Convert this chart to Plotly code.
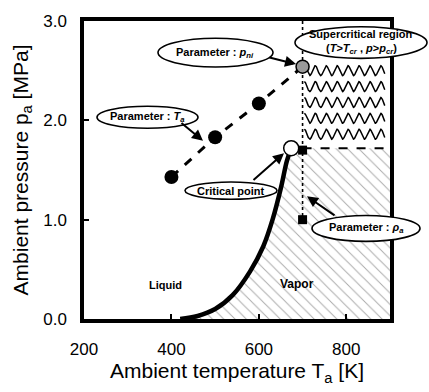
import numpy as np
import plotly.graph_objects as go

# ---- data ----
crit_T = [420, 460, 500, 540, 580, 610, 632, 651, 664, 674]
crit_p = [0.0, 0.03, 0.10, 0.24, 0.48, 0.73, 1.01, 1.33, 1.59, 1.72]

ta_T = [400, 500, 600]
ta_p = [1.43, 1.83, 2.17]
pni_T = [700]
pni_p = [2.54]

rho_T = [700, 700]
rho_p = [1.70, 1.00]

cp_T = [674]
cp_p = [1.72]

T_cr_line = 700
p_cr = 1.72
wave_rows = [2.50, 2.34, 2.18, 2.02, 1.86]

x_ticks = [200, 400, 600, 800]
y_ticks = [0, 1, 2, 3]
y_ticktext = ["0.0", "1.0", "2.0", "3.0"]

# ---- layout geometry ----
W, H = 429, 392
L, R, T, B = 84, 39, 14, 67
PW, PH = W - L - R, H - T - B


def P(px, py):
    return (px - L) / PW, (H - B - py) / PH


FONT = "Liberation Sans, Arial, sans-serif"
fig = go.Figure()

# vapor region (hatched)
vx = crit_T + [900, 900, crit_T[0]]
vy = crit_p + [p_cr, 0, 0]
fig.add_trace(go.Scatter(
    x=vx, y=vy, mode="lines", fill="toself", line=dict(width=0),
    fillcolor="white",
    fillpattern=dict(shape="\\", size=8, solidity=0.12, fgcolor="#555", bgcolor="white"),
    hoverinfo="skip", showlegend=False))

# supercritical wavy texture
for pr in wave_rows:
    wt = np.linspace(704, 888, 400)
    wp = pr + 0.05 * np.cos((wt - 704) / 25.0 * 2 * np.pi)
    fig.add_trace(go.Scatter(x=wt, y=wp, mode="lines", line=dict(color="black", width=1.5),
                             hoverinfo="skip", showlegend=False))

# critical boundary horizontal dashed
fig.add_trace(go.Scatter(x=[T_cr_line, 895], y=[p_cr, p_cr], mode="lines",
                         line=dict(color="black", width=2, dash="dash"),
                         hoverinfo="skip", showlegend=False))

# vertical line (T = const)
fig.add_trace(go.Scatter(x=[T_cr_line, T_cr_line], y=[3.0, rho_p[-1]], mode="lines",
                         line=dict(color="black", width=1.6, dash="dot"),
                         hoverinfo="skip", showlegend=False))

# critical (saturation) curve
fig.add_trace(go.Scatter(x=crit_T, y=crit_p, mode="lines", line=dict(color="black", width=4.5, shape="spline"),
                         hoverinfo="skip", showlegend=False))

# Ta parameter line
fig.add_trace(go.Scatter(x=ta_T + pni_T, y=ta_p + pni_p, mode="lines",
                         line=dict(color="black", width=3, dash="dash"),
                         hoverinfo="skip", showlegend=False))
fig.add_trace(go.Scatter(x=ta_T, y=ta_p, mode="markers",
                         marker=dict(color="black", size=14, symbol="circle"),
                         hoverinfo="skip", showlegend=False))
fig.add_trace(go.Scatter(x=pni_T, y=pni_p, mode="markers",
                         marker=dict(color="#9a9a9a", size=13, symbol="circle",
                                     line=dict(color="black", width=1.5)),
                         hoverinfo="skip", showlegend=False))

# rho_a squares
fig.add_trace(go.Scatter(x=rho_T, y=rho_p, mode="markers",
                         marker=dict(color="black", size=9, symbol="square"),
                         hoverinfo="skip", showlegend=False))

# critical point
fig.add_trace(go.Scatter(x=cp_T, y=cp_p, mode="markers",
                         marker=dict(color="white", size=15, symbol="circle",
                                     line=dict(color="black", width=1.5)),
                         hoverinfo="skip", showlegend=False))

shapes = []
annotations = []


def ellipse(x0, y0, x1, y1):
    a0, b1 = P(x0, y0)
    a1, b0 = P(x1, y1)
    shapes.append(dict(type="circle", xref="paper", yref="paper", x0=a0, x1=a1, y0=b0, y1=b1,
                       line=dict(color="black", width=1.6), fillcolor="white", layer="above"))


def text(px, py, s, size=11):
    a, b = P(px, py)
    annotations.append(dict(xref="paper", yref="paper", x=a, y=b, text="<b>" + s + "</b>", showarrow=False,
                            font=dict(family=FONT, size=size, color="black"),
                            xanchor="center", yanchor="middle"))


def arrow(tx, ty, hx, hy):
    a, b = P(hx, hy)
    annotations.append(dict(xref="paper", yref="paper", x=a, y=b, text="", showarrow=True,
                            axref="pixel", ayref="pixel", ax=tx - hx, ay=ty - hy,
                            arrowhead=2, arrowsize=1.1, arrowwidth=2, arrowcolor="black"))


ellipse(158, 32, 273, 62)
text(215, 47, "Parameter : <i>p<sub>ni</sub></i>", 11)
arrow(268, 52, 296, 59)

ellipse(97, 103, 198, 126)
text(147, 114, "Parameter : <i>T<sub>a</sub></i>", 11)
arrow(180, 120, 203, 139)

ellipse(185, 182, 277, 200)
text(231, 191, "Critical point", 11)
arrow(252, 180, 284, 152)

ellipse(295, 20, 427, 53)
text(361, 28, "Supercritical region", 11)
text(361, 43, "(<i>T</i>&gt;<i>T<sub>cr</sub></i> , <i>p</i>&gt;<i>p<sub>cr</sub></i>)", 11)

ellipse(312, 217, 420, 244)
text(366, 230, "Parameter : <i>ρ<sub>a</sub></i>", 11)
arrow(336, 217, 307, 197)

text(165, 290, "Liquid", 11)
text(297, 288, "Vapor", 12)

fig.update_layout(
    width=W, height=H, margin=dict(l=L, r=R, t=T, b=B),
    plot_bgcolor="white", paper_bgcolor="white",
    shapes=shapes, annotations=annotations,
    font=dict(family=FONT, color="black"),
    xaxis=dict(range=[200, 900], tickvals=x_ticks, ticks="inside", ticklen=5, tickwidth=1.5,
               tickcolor="black", showline=True, linewidth=3.5, linecolor="black", mirror=True,
               showgrid=False, zeroline=False, tickfont=dict(size=17, family=FONT),
               ticklabelstandoff=12,
               title=dict(text="Ambient temperature T<sub>a</sub> [K]", font=dict(size=21, family=FONT),
                          standoff=6)),
    yaxis=dict(range=[0, 3], tickvals=y_ticks, ticktext=y_ticktext, ticks="inside", ticklen=5,
               tickwidth=1.5, tickcolor="black", showline=True, linewidth=3.5, linecolor="black",
               mirror=True, showgrid=False, zeroline=False, tickfont=dict(size=17, family=FONT),
               ticklabelstandoff=10,
               title=dict(text="Ambient pressure p<sub>a</sub> [MPa]", font=dict(size=21, family=FONT),
                          standoff=10)),
)

fig.write_html("out.html")
